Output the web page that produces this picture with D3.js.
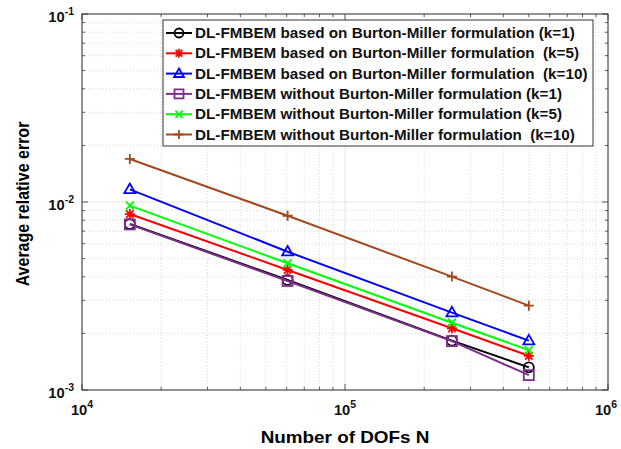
<!DOCTYPE html>
<html>
<head>
<meta charset="utf-8">
<script src="https://cdn.jsdelivr.net/npm/d3@7"></script>
<style>
  body { margin: 0; background: #fff; }
  text { font-family: "Liberation Sans", Arial, Helvetica, sans-serif; font-weight: bold; }
</style>
</head>
<body>
<div id="chart"></div>
<script>
// Data
const dofs = [15200, 60500, 255000, 500000];
const bmK1 = [0.00764, 0.00385, 0.00183, 0.00132];
const bmK5 = [0.00863, 0.00435, 0.00213, 0.00152];
const bmK10 = [0.01168, 0.00544, 0.00258, 0.00183];
const noK1 = [0.00760, 0.00380, 0.00182, 0.00120];
const noK5 = [0.00956, 0.00472, 0.00228, 0.00163];
const noK10 = [0.01694, 0.00845, 0.00401, 0.00281];

const seriesNames = [
  "DL-FMBEM based on Burton-Miller formulation (k=1)",
  "DL-FMBEM based on Burton-Miller formulation  (k=5)",
  "DL-FMBEM based on Burton-Miller formulation  (k=10)",
  "DL-FMBEM without Burton-Miller formulation (k=1)",
  "DL-FMBEM without Burton-Miller formulation (k=5)",
  "DL-FMBEM without Burton-Miller formulation  (k=10)"
];
const xTickExp = [4, 5, 6];
const yTickExp = [-1, -2, -3];

const series = [
  { name: seriesNames[0], values: bmK1, color: "#000000", marker: "circle" },
  { name: seriesNames[1], values: bmK5, color: "#ff0000", marker: "star" },
  { name: seriesNames[2], values: bmK10, color: "#0000ff", marker: "triangle" },
  { name: seriesNames[3], values: noK1, color: "#7e2f8e", marker: "square" },
  { name: seriesNames[4], values: noK5, color: "#00ff00", marker: "cross" },
  { name: seriesNames[5], values: noK10, color: "#a3481d", marker: "plus" }
];

// settings
const width = 621, height = 449;
const pLeft = 82, pRight = 608, pTop = 14, pBottom = 390;
const stretch = 1.18;   // titles look a bit wider than tall
const legStretch = 1.09;

const svg = d3.select("#chart").append("svg")
  .attr("width", width)
  .attr("height", height);

const x = d3.scaleLog().domain([1e4, 1e6]).range([pLeft, pRight]);
const y = d3.scaleLog().domain([1e-3, 1e-1]).range([pBottom, pTop]);

// grid lines
const minorX = [], minorY = [];
for (let e = 4; e < 6; e++) for (let m = 2; m <= 9; m++) minorX.push(m * Math.pow(10, e));
for (let e = -3; e < -1; e++) for (let m = 2; m <= 9; m++) minorY.push(m * Math.pow(10, e));
const majorX = xTickExp.map(e => Math.pow(10, e));
const majorY = yTickExp.map(e => Math.pow(10, e));

const grid = svg.append("g");
grid.selectAll(".gx").data(minorX).enter().append("line")
  .attr("x1", d => x(d)).attr("x2", d => x(d))
  .attr("y1", pTop).attr("y2", pBottom)
  .attr("stroke", "#cfcfcf").attr("stroke-width", 0.8).attr("stroke-dasharray", "1,2");
grid.selectAll(".gy").data(minorY).enter().append("line")
  .attr("x1", pLeft).attr("x2", pRight)
  .attr("y1", d => y(d)).attr("y2", d => y(d))
  .attr("stroke", "#cfcfcf").attr("stroke-width", 0.8).attr("stroke-dasharray", "1,2");
grid.selectAll(".gxm").data(majorX).enter().append("line")
  .attr("x1", d => x(d)).attr("x2", d => x(d))
  .attr("y1", pTop).attr("y2", pBottom)
  .attr("stroke", "#dedede").attr("stroke-width", 0.8);
grid.selectAll(".gym").data(majorY).enter().append("line")
  .attr("x1", pLeft).attr("x2", pRight)
  .attr("y1", d => y(d)).attr("y2", d => y(d))
  .attr("stroke", "#dedede").attr("stroke-width", 0.8);

// ticks (inward, all sides)
const ticks = svg.append("g").attr("stroke", "#333").attr("stroke-width", 0.8);
minorX.forEach(d => {
  ticks.append("line").attr("x1", x(d)).attr("x2", x(d)).attr("y1", pBottom).attr("y2", pBottom - 3);
  ticks.append("line").attr("x1", x(d)).attr("x2", x(d)).attr("y1", pTop).attr("y2", pTop + 3);
});
majorX.forEach(d => {
  ticks.append("line").attr("x1", x(d)).attr("x2", x(d)).attr("y1", pBottom).attr("y2", pBottom - 6);
  ticks.append("line").attr("x1", x(d)).attr("x2", x(d)).attr("y1", pTop).attr("y2", pTop + 6);
});
minorY.forEach(d => {
  ticks.append("line").attr("x1", pLeft).attr("x2", pLeft + 3).attr("y1", y(d)).attr("y2", y(d));
  ticks.append("line").attr("x1", pRight).attr("x2", pRight - 3).attr("y1", y(d)).attr("y2", y(d));
});
majorY.forEach(d => {
  ticks.append("line").attr("x1", pLeft).attr("x2", pLeft + 6).attr("y1", y(d)).attr("y2", y(d));
  ticks.append("line").attr("x1", pRight).attr("x2", pRight - 6).attr("y1", y(d)).attr("y2", y(d));
});

// box
svg.append("rect")
  .attr("x", pLeft).attr("y", pTop)
  .attr("width", pRight - pLeft).attr("height", pBottom - pTop)
  .attr("fill", "none").attr("stroke", "#333").attr("stroke-width", 1);

// tick labels
function powLabel(g, base, exp, xp, yp, anchor) {
  const t = g.append("text")
    .attr("transform", `translate(${xp},${yp}) scale(1.05,1)`)
    .attr("text-anchor", anchor)
    .style("font-size", "14px")
    .attr("fill", "#111");
  t.append("tspan").text(base);
  t.append("tspan").text(exp).attr("dy", -7).style("font-size", "10px");
}
const labels = svg.append("g");
xTickExp.forEach(e => powLabel(labels, "10", e, Math.min(x(Math.pow(10, e)), 606), pBottom + 25, "middle"));
yTickExp.forEach(e => powLabel(labels, "10", e, pLeft - 8, y(Math.pow(10, e)) + 8, "end"));

// axis titles
svg.append("text")
  .attr("transform", `translate(${(pLeft + pRight) / 2}, 443) scale(${stretch},1)`)
  .attr("text-anchor", "middle")
  .style("font-size", "16px")
  .text("Number of DOFs N");
svg.append("text")
  .attr("transform", `translate(29, ${(pTop + pBottom) / 2 + 2}) scale(${stretch},1) rotate(-90)`)
  .attr("text-anchor", "middle")
  .style("font-size", "16px")
  .text("Average relative error");

// marker shapes
function drawMarker(g, type, cx, cy, color, s) {
  const m = g.append("g").attr("transform", `translate(${cx},${cy})`)
    .attr("fill", "none").attr("stroke", color).attr("stroke-width", 1.8);
  if (type === "circle") m.append("circle").attr("r", s);
  if (type === "square") m.append("rect").attr("x", -s).attr("y", -s).attr("width", 2 * s).attr("height", 2 * s);
  if (type === "triangle") m.append("path").attr("d", `M0,${-s * 1.15}L${s * 1.1},${s * 0.75}L${-s * 1.1},${s * 0.75}Z`);
  if (type === "plus") m.append("path").attr("d", `M${-s},0H${s}M0,${-s}V${s}`);
  if (type === "cross") m.append("path").attr("d", `M${-s * 0.8},${-s * 0.8}L${s * 0.8},${s * 0.8}M${-s * 0.8},${s * 0.8}L${s * 0.8},${-s * 0.8}`);
  if (type === "star") {
    const a = s * 0.75;
    m.append("path").attr("d", `M${-s},0H${s}M0,${-s}V${s}M${-a},${-a}L${a},${a}M${-a},${a}L${a},${-a}`);
  }
}

// lines and markers
const line = d3.line().x(d => x(d[0])).y(d => y(d[1]));
const plot = svg.append("g");
series.forEach(s => {
  const pts = dofs.map((n, i) => [n, s.values[i]]);
  plot.append("path")
    .attr("d", line(pts))
    .attr("fill", "none")
    .attr("stroke", s.color)
    .attr("stroke-width", 2);
  pts.forEach(p => drawMarker(plot, s.marker, x(p[0]), y(p[1]), s.color, 5));
});

// legend
const legX = 163, legY = 20, legW = 430, legH = 126, rowH = 20.3;
const legend = svg.append("g");
legend.append("rect")
  .attr("x", legX).attr("y", legY)
  .attr("width", legW).attr("height", legH)
  .attr("fill", "#fff").attr("stroke", "#333").attr("stroke-width", 1);
series.forEach((s, i) => {
  const cy = legY + 13 + i * rowH;
  legend.append("line")
    .attr("x1", legX + 3).attr("x2", legX + 29)
    .attr("y1", cy).attr("y2", cy)
    .attr("stroke", s.color).attr("stroke-width", 2);
  drawMarker(legend, s.marker, legX + 16, cy, s.color, 4.5);
  legend.append("text")
    .attr("transform", `translate(${legX + 32},${cy + 5}) scale(${legStretch},1)`)
    .style("font-size", "14px")
    .style("white-space", "pre")
    .attr("xml:space", "preserve")
    .attr("fill", "#111")
    .text(s.name);
});
</script>
</body>
</html>
